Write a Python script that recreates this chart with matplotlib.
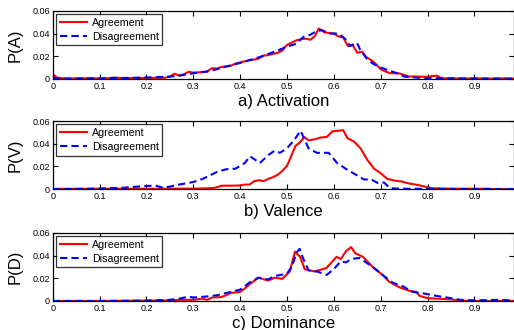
import matplotlib
matplotlib.use('Agg')
import matplotlib.pyplot as plt
from matplotlib.ticker import FormatStrFormatter

plt.rcParams['font.family'] = ['Liberation Sans', 'DejaVu Sans']

# a) Activation
act_agree_x = [0, 0.01, 0.03, 0.06, 0.1, 0.12, 0.13, 0.15, 0.2, 0.24, 0.25, 0.26, 0.27, 0.28, 0.29, 0.3,
               0.32, 0.33, 0.34, 0.35, 0.36, 0.37, 0.38, 0.39, 0.4, 0.41, 0.42, 0.43, 0.44, 0.45, 0.46,
               0.47, 0.48, 0.49, 0.5, 0.51, 0.52, 0.53, 0.54, 0.55, 0.56, 0.568, 0.58, 0.59, 0.6, 0.61,
               0.62, 0.63, 0.64, 0.65, 0.66, 0.67, 0.68, 0.69, 0.7, 0.71, 0.72, 0.73, 0.74, 0.75, 0.76,
               0.77, 0.78, 0.79, 0.8, 0.81, 0.82, 0.83, 0.85, 0.88, 0.9, 0.93, 0.96, 0.99]
act_agree_y = [0.004, 0.001, 0.0003, 0.0005, 0.0004, 0.0006, 0.0012, 0.0006, 0.0008, 0.001, 0.002, 0.0045, 0.003, 0.004, 0.0062, 0.0055,
               0.006, 0.0065, 0.0095, 0.009, 0.0105, 0.011, 0.0115, 0.0135, 0.0145, 0.0155, 0.0165, 0.017, 0.018, 0.0205, 0.021,
               0.022, 0.023, 0.025, 0.03, 0.032, 0.034, 0.035, 0.0355, 0.0345, 0.038, 0.0445, 0.041, 0.0405, 0.04, 0.0375,
               0.0365, 0.029, 0.03, 0.023, 0.024, 0.019, 0.0165, 0.013, 0.0085, 0.0065, 0.005, 0.005, 0.0048, 0.0035, 0.002,
               0.0022, 0.002, 0.0019, 0.0018, 0.0025, 0.0028, 0.0005, 0.0004, 0.0002, 0.0005, 0.0002, 0.0004, 0.0002]
act_dis_x = [0, 0.02, 0.05, 0.1, 0.15, 0.2, 0.22, 0.25, 0.27, 0.3, 0.33, 0.35, 0.38, 0.4, 0.42, 0.44, 0.46,
             0.48, 0.5, 0.52, 0.535, 0.55, 0.563, 0.574, 0.592, 0.61, 0.625, 0.635, 0.649, 0.656, 0.67, 0.685,
             0.7, 0.72, 0.735, 0.75, 0.78, 0.82, 0.86, 0.9, 0.95, 0.99]
act_dis_y = [0.001, 0.0003, 0.0003, 0.0005, 0.0008, 0.0012, 0.0015, 0.002, 0.0028, 0.005, 0.0065, 0.0085, 0.012, 0.014, 0.0165, 0.019, 0.022,
             0.025, 0.0285, 0.031, 0.037, 0.039, 0.042, 0.043, 0.04, 0.04, 0.035, 0.029, 0.032, 0.026, 0.018, 0.013,
             0.01, 0.007, 0.005, 0.002, 0.001, 0.0006, 0.0004, 0.0003, 0.0002, 0.0002]

# b) Valence
val_agree_x = [0, 0.1, 0.2, 0.3, 0.34, 0.35, 0.36, 0.38, 0.4, 0.41, 0.42, 0.43, 0.44, 0.45, 0.46, 0.47, 0.48,
               0.49, 0.5, 0.51, 0.518, 0.527, 0.537, 0.546, 0.56, 0.572, 0.585, 0.597, 0.61, 0.62, 0.629, 0.643,
               0.657, 0.671, 0.686, 0.7, 0.714, 0.73, 0.743, 0.76, 0.78, 0.795, 0.81, 0.83, 0.86, 0.9, 0.93, 0.94, 0.99]
val_agree_y = [0.0002, 0.0003, 0.0003, 0.0004, 0.0008, 0.0015, 0.003, 0.003, 0.0032, 0.004, 0.004, 0.007, 0.0078, 0.007, 0.009, 0.0105, 0.0125,
               0.016, 0.0205, 0.03, 0.038, 0.041, 0.046, 0.043, 0.044, 0.0455, 0.046, 0.051, 0.0515, 0.052, 0.045, 0.042,
               0.036, 0.026, 0.018, 0.014, 0.009, 0.0075, 0.0068, 0.005, 0.0036, 0.002, 0.0008, 0.0005, 0.0004, 0.0003, 0.0003, 0.0, 0.0]
val_dis_x = [0, 0.07, 0.1, 0.15, 0.2, 0.22, 0.235, 0.25, 0.27, 0.3, 0.32, 0.35, 0.37, 0.39, 0.41, 0.421, 0.442,
             0.46, 0.474, 0.485, 0.5, 0.515, 0.529, 0.546, 0.564, 0.589, 0.607, 0.629, 0.65, 0.664, 0.68, 0.693,
             0.707, 0.72, 0.74, 0.76, 0.8, 0.85, 0.99]
val_dis_y = [0.0, 0.0002, 0.0005, 0.0012, 0.0028, 0.003, 0.0012, 0.0022, 0.004, 0.0062, 0.009, 0.015, 0.0175, 0.018, 0.023, 0.029, 0.023,
             0.03, 0.034, 0.032, 0.036, 0.043, 0.0515, 0.036, 0.032, 0.032, 0.023, 0.017, 0.012, 0.0085, 0.0085, 0.0055,
             0.0058, 0.0008, 0.0004, 0.0003, 0.0002, 0.0, 0.0]

# c) Dominance
dom_agree_x = [0, 0.1, 0.2, 0.25, 0.28, 0.3, 0.32, 0.33, 0.34, 0.36, 0.37, 0.38, 0.39, 0.4, 0.41, 0.421, 0.439,
               0.46, 0.474, 0.49, 0.506, 0.517, 0.528, 0.538, 0.559, 0.584, 0.606, 0.615, 0.626, 0.637, 0.646,
               0.662, 0.683, 0.704, 0.718, 0.74, 0.761, 0.776, 0.783, 0.8, 0.82, 0.848, 0.87, 0.9, 0.99]
dom_agree_y = [0.0, 0.0, 0.0003, 0.0005, 0.001, 0.001, 0.002, 0.001, 0.003, 0.0035, 0.005, 0.007, 0.0075, 0.008, 0.011, 0.015, 0.0205,
               0.018, 0.0205, 0.0195, 0.026, 0.0435, 0.039, 0.028, 0.026, 0.029, 0.039, 0.037, 0.044, 0.0475, 0.042,
               0.039, 0.03, 0.023, 0.017, 0.012, 0.009, 0.008, 0.0045, 0.0025, 0.002, 0.0015, 0.0003, 0.0, 0.0]
dom_dis_x = [0, 0.1, 0.2, 0.25, 0.27, 0.29, 0.3, 0.33, 0.35, 0.37, 0.38, 0.4, 0.421, 0.439, 0.46, 0.474,
             0.5, 0.51, 0.521, 0.527, 0.533, 0.546, 0.564, 0.585, 0.602, 0.615, 0.626, 0.637, 0.655, 0.665,
             0.683, 0.704, 0.726, 0.747, 0.768, 0.79, 0.82, 0.848, 0.87, 0.9, 0.95, 0.99]
dom_dis_y = [0.0, 0.0, 0.0003, 0.001, 0.002, 0.0038, 0.003, 0.004, 0.005, 0.007, 0.008, 0.01, 0.0165, 0.0205, 0.019, 0.022,
             0.024, 0.03, 0.043, 0.046, 0.039, 0.027, 0.026, 0.023, 0.029, 0.035, 0.034, 0.037, 0.038, 0.035,
             0.03, 0.023, 0.016, 0.013, 0.008, 0.0068, 0.0044, 0.0026, 0.001, 0.0005, 0.001, 0.0003]

panels = [
    ('P(A)', 'a) Activation', act_agree_x, act_agree_y, act_dis_x, act_dis_y),
    ('P(V)', 'b) Valence', val_agree_x, val_agree_y, val_dis_x, val_dis_y),
    ('P(D)', 'c) Dominance', dom_agree_x, dom_agree_y, dom_dis_x, dom_dis_y),
]
bottoms = [0.761, 0.427, 0.088]

fig = plt.figure(figsize=(5.14, 3.3), dpi=100)
for (ylab, xlab, ax_, ay_, dx_, dy_), b in zip(panels, bottoms):
    ax = fig.add_axes([0.1025, b, 0.897, 0.206])
    ax.plot(ax_, ay_, color='red', lw=1.5, label='Agreement')
    ax.plot(dx_, dy_, color='blue', lw=1.5, ls=(0, (3.5, 2)), label='Disagreement')
    ax.set_xlim(0, 0.984)
    ax.set_ylim(0, 0.06)
    ax.set_xticks([0, 0.1, 0.2, 0.3, 0.4, 0.5, 0.6, 0.7, 0.8, 0.9])
    ax.set_yticks([0, 0.02, 0.04, 0.06])
    ax.xaxis.set_major_formatter(FormatStrFormatter('%g'))
    ax.yaxis.set_major_formatter(FormatStrFormatter('%g'))
    ax.tick_params(direction='in', top=True, right=True, length=3.5, width=0.8,
                   labelsize=6.5, pad=2)
    ax.set_ylabel(ylab, fontsize=12, labelpad=7)
    ax.set_xlabel(xlab, fontsize=12, labelpad=2.5)
    for s in ax.spines.values():
        s.set_linewidth(0.9)
    leg = ax.legend(loc='upper left', fontsize=7.7, frameon=True, fancybox=False,
                    edgecolor='black', handlelength=2.6, borderpad=0.35,
                    labelspacing=0.35, handletextpad=0.4, borderaxespad=0.3)
    leg.get_frame().set_linewidth(0.9)

fig.savefig('out.png', dpi=100)
